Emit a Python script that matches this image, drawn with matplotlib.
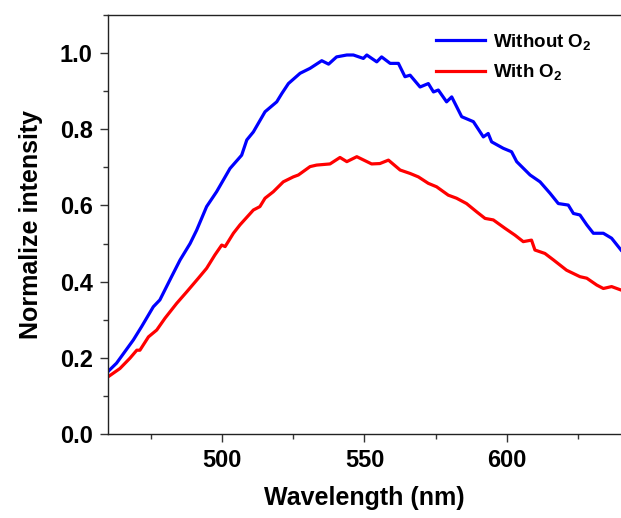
import matplotlib
matplotlib.use('Agg')
import matplotlib.pyplot as plt
from matplotlib.ticker import MultipleLocator

plt.rcParams['font.family'] = ['Liberation Sans', 'DejaVu Sans']
plt.rcParams['font.weight'] = 'bold'
plt.rcParams['mathtext.fontset'] = 'custom'
plt.rcParams['mathtext.rm'] = 'Liberation Sans:bold'
plt.rcParams['mathtext.it'] = 'Liberation Sans:bold'
plt.rcParams['mathtext.bf'] = 'Liberation Sans:bold'
plt.rcParams['mathtext.default'] = 'rm'

# values
wl_without = [460.0, 463.0, 468.9, 471.8, 475.9, 478.2, 482.3, 485.3, 488.8, 491.1,
              494.6, 498.1, 502.8, 506.9, 508.7, 511.0, 515.1, 519.2, 521.0, 523.3,
              527.4, 530.9, 535.0, 537.4, 540.2, 543.8, 546.1, 549.6, 550.8, 554.3,
              556.0, 559.0, 561.9, 564.2, 566.0, 569.5, 572.4, 574.2, 575.9, 578.8,
              580.6, 584.1, 588.2, 591.7, 593.4, 594.6, 598.7, 601.6, 603.4, 608.1,
              611.6, 615.1, 618.0, 621.5, 623.3, 625.6, 628.0, 630.3, 633.8, 636.7,
              640.0]
without_o2 = [0.164, 0.186, 0.247, 0.282, 0.334, 0.352, 0.413, 0.457, 0.500, 0.535,
              0.597, 0.636, 0.697, 0.732, 0.772, 0.793, 0.846, 0.872, 0.894, 0.920,
              0.947, 0.960, 0.980, 0.971, 0.990, 0.995, 0.995, 0.986, 0.995, 0.977,
              0.990, 0.973, 0.973, 0.938, 0.942, 0.911, 0.920, 0.898, 0.903, 0.872,
              0.885, 0.833, 0.820, 0.780, 0.789, 0.767, 0.750, 0.741, 0.715, 0.680,
              0.662, 0.632, 0.605, 0.601, 0.579, 0.575, 0.549, 0.527, 0.527, 0.514,
              0.483]

wl_with = [460.0, 464.2, 467.7, 470.1, 471.2, 474.2, 477.1, 480.0, 484.1, 487.6,
           491.7, 494.6, 497.5, 499.9, 501.1, 504.0, 506.3, 511.0, 513.3, 515.1,
           518.0, 521.5, 525.0, 526.8, 530.9, 533.2, 537.9, 541.4, 543.8, 547.3,
           552.5, 555.4, 558.4, 562.5, 566.0, 568.9, 572.4, 575.3, 579.4, 582.3,
           585.8, 589.4, 592.3, 595.2, 599.3, 602.8, 605.7, 608.6, 609.8, 613.3,
           616.3, 620.9, 625.6, 628.0, 631.5, 633.8, 636.7, 640.0]
with_o2 = [0.150, 0.172, 0.199, 0.220, 0.220, 0.255, 0.273, 0.304, 0.343, 0.373,
           0.409, 0.435, 0.470, 0.496, 0.492, 0.527, 0.549, 0.588, 0.597, 0.619,
           0.636, 0.662, 0.675, 0.680, 0.702, 0.706, 0.709, 0.726, 0.715, 0.728,
           0.709, 0.710, 0.719, 0.693, 0.684, 0.675, 0.658, 0.649, 0.627, 0.619,
           0.605, 0.583, 0.566, 0.562, 0.540, 0.522, 0.505, 0.509, 0.483, 0.474,
           0.457, 0.430, 0.413, 0.409, 0.391, 0.382, 0.387, 0.378]

fig = plt.figure(figsize=(6.21, 5.18), dpi=100)
ax = fig.add_axes([108 / 621, 84 / 518, 513 / 621, 419 / 518])

ax.plot(wl_without, without_o2, color='#0000ff', lw=2.3, label='Without O$_2$')
ax.plot(wl_with, with_o2, color='#ff0000', lw=2.3, label='With O$_2$')

ax.set_xlim(460, 640)
ax.set_ylim(0, 1.1)
ax.xaxis.set_major_locator(MultipleLocator(50))
ax.xaxis.set_minor_locator(MultipleLocator(25))
ax.yaxis.set_major_locator(MultipleLocator(0.2))
ax.yaxis.set_minor_locator(MultipleLocator(0.1))
ax.tick_params(which='both', direction='out', top=False, right=False, width=1.0,
               color='#333333')
ax.tick_params(which='major', length=6, labelsize=17, pad=5)
ax.tick_params(which='minor', length=3.5)
ax.yaxis.set_major_formatter(matplotlib.ticker.FormatStrFormatter('%.1f'))
for s in ['left', 'bottom', 'top']:
    ax.spines[s].set_linewidth(1.0)
    ax.spines[s].set_color('#222222')
ax.spines['right'].set_visible(False)

ax.set_xlabel('Wavelength (nm)', fontsize=18, fontweight='bold', labelpad=10)
ax.set_ylabel('Normalize intensity', fontsize=18, fontweight='bold', labelpad=12)

ax.legend(loc='upper right', bbox_to_anchor=(0.975, 1.0), frameon=False, fontsize=13.5,
          handlelength=2.6, handletextpad=0.4, labelspacing=0.55)

fig.savefig('out.png', dpi=100)
